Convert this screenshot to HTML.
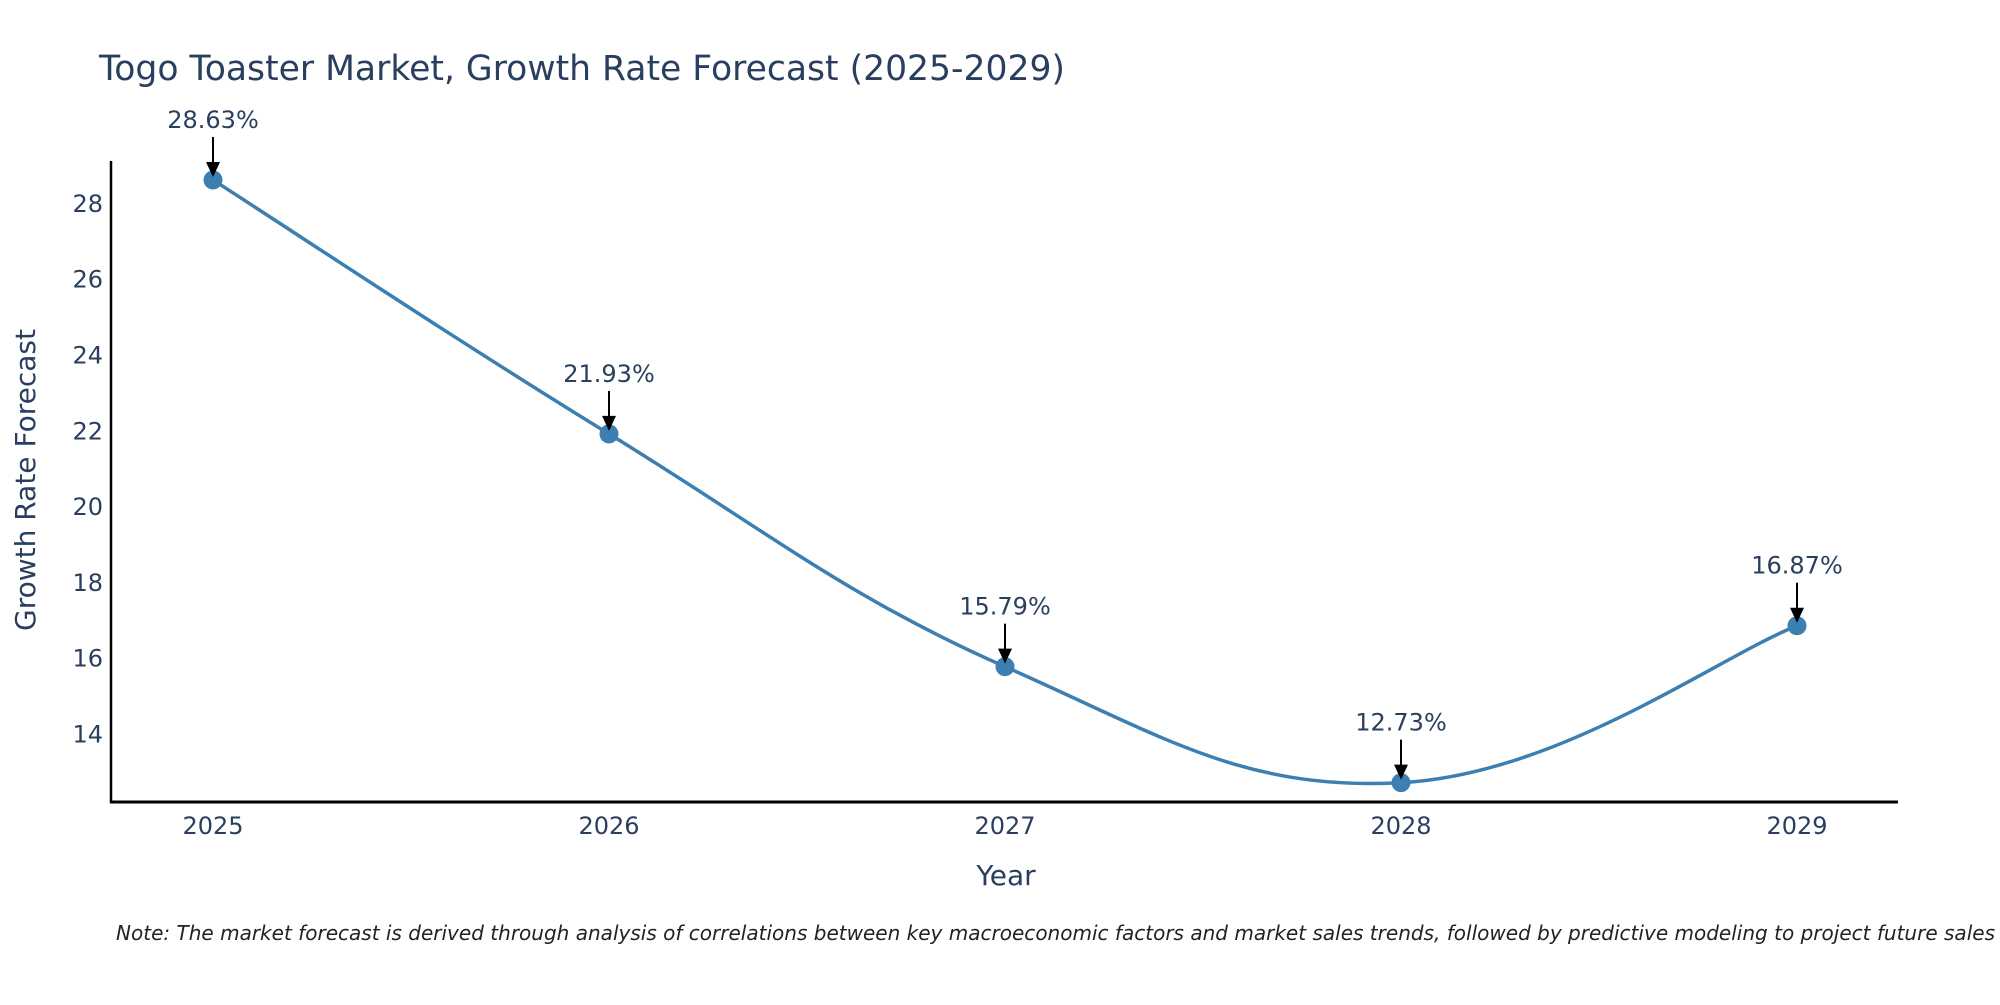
<!DOCTYPE html>
<html><head><meta charset="utf-8"><style>
html,body{margin:0;padding:0;background:#fff;}
svg text{font-family:"DejaVu Sans","Liberation Sans",sans-serif;}
</style></head><body>
<svg id="chart" width="2000" height="1000" viewBox="0 0 2000 1000" xmlns="http://www.w3.org/2000/svg">
<rect width="2000" height="1000" fill="#fff"/>
<text x="99" y="80" font-size="35" fill="#2a3f5f" textLength="966" lengthAdjust="spacingAndGlyphs">Togo Toaster Market, Growth Rate Forecast (2025-2029)</text>
<g id="plot"></g>
<text transform="translate(35,480) rotate(-90)" text-anchor="middle" font-size="28" fill="#2a3f5f" textLength="302" lengthAdjust="spacingAndGlyphs">Growth Rate Forecast</text>
<text x="1006" y="885" text-anchor="middle" font-size="28" fill="#2a3f5f">Year</text>
<text x="116" y="940" font-size="20" font-style="italic" fill="#222" textLength="1879" lengthAdjust="spacingAndGlyphs">Note: The market forecast is derived through analysis of correlations between key macroeconomic factors and market sales trends, followed by predictive modeling to project future sales</text>
</svg>
<script>
const years = ['2025','2026','2027','2028','2029'];
const growthValues = [28.63, 21.93, 15.79, 12.73, 16.87];
const valueLabels = ['28.63%','21.93%','15.79%','12.73%','16.87%'];
const yTicks = [14, 16, 18, 20, 22, 24, 26, 28];

const NS = 'http://www.w3.org/2000/svg';
const plot = document.getElementById('plot');
const X0 = 111, X1 = 1898, YB = 802, YT = 161;
const yMin = 12.22, yMax = 29.13;
function xScale(i){ return 213 + i * 396; }
function yScale(v){ return YB - (v - yMin) / (yMax - yMin) * (YB - YT); }
function mk(tag, attrs){ const e = document.createElementNS(NS, tag); for (const k in attrs) e.setAttribute(k, attrs[k]); plot.appendChild(e); return e; }

// y ticks
yTicks.forEach(t => {
  const e = mk('text', {x: 103, y: yScale(t) + 8, 'text-anchor': 'end', 'font-size': 24, fill: '#2a3f5f'});
  e.textContent = t;
  
  
});
// x ticks
years.forEach((y, i) => {
  const e = mk('text', {x: xScale(i), y: 834, 'text-anchor': 'middle', 'font-size': 24, fill: '#2a3f5f'});
  e.textContent = y;
  
  
});

// spline path (Catmull-Rom)
const pts = growthValues.map((v, i) => [xScale(i), yScale(v)]);
let d = 'M' + pts[0][0] + ',' + pts[0][1];
const s = 0.2;
for (let i = 0; i < pts.length - 1; i++) {
  const p0 = pts[Math.max(i - 1, 0)], p1 = pts[i], p2 = pts[i + 1], p3 = pts[Math.min(i + 2, pts.length - 1)];
  const c1 = [p1[0] + (p2[0] - p0[0]) * s, p1[1] + (p2[1] - p0[1]) * s];
  const c2 = [p2[0] - (p3[0] - p1[0]) * s, p2[1] - (p3[1] - p1[1]) * s];
  d += ' C' + c1[0] + ',' + c1[1] + ' ' + c2[0] + ',' + c2[1] + ' ' + p2[0] + ',' + p2[1];
}
const line = mk('path', {d: d, fill: 'none', stroke: '#3d7fb1', 'stroke-width': 3.5});



pts.forEach((p, i) => {
  const c = mk('circle', {cx: p[0], cy: p[1], r: 9.5, fill: '#3d7fb1'});
  
  
  const a = mk('line', {x1: p[0], y1: p[1] - 43, x2: p[0], y2: p[1] - 16, stroke: '#000', 'stroke-width': 2});
  
  
  const h = mk('path', {d: 'M' + (p[0] - 7) + ',' + (p[1] - 18) + ' L' + (p[0] + 7) + ',' + (p[1] - 18) + ' L' + p[0] + ',' + (p[1] - 3) + ' Z', fill: '#000'});
  
  
  const t = mk('text', {x: p[0], y: p[1] - 52, 'text-anchor': 'middle', 'font-size': 24, fill: '#2a3f5f'});
  t.textContent = valueLabels[i];
  
  
});

// axes
const ya = mk('line', {x1: X0, y1: YT, x2: X0, y2: YB + 1, stroke: '#000', 'stroke-width': 2.5});


const xa = mk('line', {x1: X0 - 1, y1: YB, x2: X1, y2: YB, stroke: '#000', 'stroke-width': 3});


</script>
</body></html>
